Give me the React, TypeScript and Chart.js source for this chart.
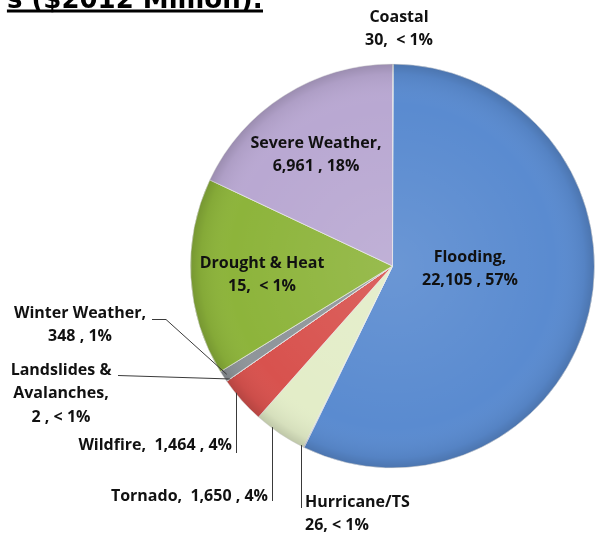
import React, { useEffect, useRef } from "react";
import { Chart, registerables } from "chart.js";

Chart.register(...registerables);

// Slices, clockwise from 12 o'clock
const categories = [
  "Coastal",
  "Flooding",
  "Hurricane/TS",
  "Tornado",
  "Wildfire",
  "Landslides & Avalanches",
  "Winter Weather",
  "Drought & Heat",
  "Severe Weather",
];
// Slice sizes (Drought & Heat slice is drawn ~16% wide)
const values = [30, 22105, 26, 1650, 1464, 2, 348, 6100, 6961];
// Numbers and shares as printed on the data labels
const printedValues = ["30", "22,105", "26", "1,650", "1,464", "2", "348", "15", "6,961"];
const printedShares = ["< 1%", "57%", "< 1%", "4%", "4%", "< 1%", "1%", "< 1%", "18%"];
const colors = [
  "#2f8d9c",
  "#5a8bd0",
  "#7b93b8",
  "#e3edc8",
  "#d8524e",
  "#7d8186",
  "#8f959a",
  "#8db43b",
  "#b9a8d2",
];
const titleText = "s ($2012 Million):";

type Leader =
  | { kind: "vertical"; x: number; y2: number }
  | { kind: "elbow"; pts: number[][]; angleFrac: number };

interface LabelSpec {
  lines: string[];
  x: number;
  y: number;
  align: CanvasTextAlign;
  leader?: Leader;
}

const labelLayout: LabelSpec[] = [
  { lines: ["Coastal", `${printedValues[0]},  ${printedShares[0]}`], x: 399, y: 17, align: "center" },
  { lines: ["Flooding,", `${printedValues[1]} , ${printedShares[1]}`], x: 470, y: 257, align: "center" },
  {
    lines: ["Hurricane/TS", `${printedValues[2]}, ${printedShares[2]}`],
    x: 305,
    y: 502,
    align: "left",
    leader: { kind: "vertical", x: 301, y2: 508 },
  },
  {
    lines: [`Tornado,  ${printedValues[3]} , ${printedShares[3]}`],
    x: 268,
    y: 496,
    align: "right",
    leader: { kind: "vertical", x: 272, y2: 501 },
  },
  {
    lines: [`Wildfire,  ${printedValues[4]} , ${printedShares[4]}`],
    x: 232,
    y: 445,
    align: "right",
    leader: { kind: "vertical", x: 236, y2: 453 },
  },
  {
    lines: ["Landslides &", "Avalanches,", `${printedValues[5]} , ${printedShares[5]}`],
    x: 61,
    y: 370,
    align: "center",
    leader: { kind: "elbow", pts: [[118, 375]], angleFrac: 0.5 },
  },
  {
    lines: ["Winter Weather,", `${printedValues[6]} , ${printedShares[6]}`],
    x: 80,
    y: 313,
    align: "center",
    leader: { kind: "elbow", pts: [[152, 319], [166, 319]], angleFrac: 0.5 },
  },
  { lines: ["Drought & Heat", `${printedValues[7]},  ${printedShares[7]}`], x: 262, y: 263, align: "center" },
  { lines: ["Severe Weather,", `${printedValues[8]} , ${printedShares[8]}`], x: 316, y: 143, align: "center" },
];

const LABEL_FONT = 'bold 16px "Open Sans", "Noto Sans", sans-serif';
const LINE_H = 23.5;

const decorPlugin = {
  id: "decor",
  afterDatasetsDraw(chart: any) {
    const ctx: CanvasRenderingContext2D = chart.ctx;
    const meta = chart.getDatasetMeta(0);
    const a0 = meta.data[0];
    const cx = a0.x;
    const cy = a0.y;
    const r = a0.outerRadius;
    // 3D-ish shading overlay
    ctx.save();
    const g = ctx.createRadialGradient(cx, cy, 0, cx, cy, r);
    g.addColorStop(0, "rgba(255,255,255,0.10)");
    g.addColorStop(0.8, "rgba(255,255,255,0.0)");
    g.addColorStop(0.95, "rgba(0,0,0,0.06)");
    g.addColorStop(1, "rgba(0,0,0,0.16)");
    ctx.fillStyle = g;
    ctx.beginPath();
    ctx.arc(cx, cy, r, 0, Math.PI * 2);
    ctx.fill();
    ctx.restore();
  },
  afterDraw(chart: any) {
    const ctx: CanvasRenderingContext2D = chart.ctx;
    const meta = chart.getDatasetMeta(0);
    const a0 = meta.data[0];
    const cx = a0.x;
    const cy = a0.y;
    const r = a0.outerRadius;

    // Title (cut off at top-left as in the source)
    ctx.save();
    ctx.font = 'bold 26px "DejaVu Sans", Verdana, sans-serif';
    ctx.fillStyle = "#000";
    ctx.textAlign = "right";
    ctx.textBaseline = "alphabetic";
    const tw = ctx.measureText(titleText).width;
    ctx.fillText(titleText, 263, 8);
    ctx.fillRect(263 - tw, 9.5, tw, 3);
    ctx.restore();

    // Leader lines
    ctx.save();
    ctx.strokeStyle = "#3a3a3a";
    ctx.lineWidth = 1;
    labelLayout.forEach((spec, i) => {
      const L = spec.leader;
      if (!L) return;
      ctx.beginPath();
      if (L.kind === "vertical") {
        const dx = L.x - cx;
        const yTop = cy + Math.sqrt(Math.max(r * r - dx * dx, 0)) - 1;
        ctx.moveTo(L.x + 0.5, yTop);
        ctx.lineTo(L.x + 0.5, L.y2);
      } else {
        const arc = meta.data[i];
        const ang = arc.startAngle + (arc.endAngle - arc.startAngle) * L.angleFrac;
        const ex = cx + Math.cos(ang) * (r - 4);
        const ey = cy + Math.sin(ang) * (r - 4);
        ctx.moveTo(L.pts[0][0], L.pts[0][1] + 0.5);
        for (let k = 1; k < L.pts.length; k++) ctx.lineTo(L.pts[k][0], L.pts[k][1] + 0.5);
        ctx.lineTo(ex, ey);
      }
      ctx.stroke();
    });
    ctx.restore();

    // Data labels
    ctx.save();
    ctx.font = LABEL_FONT;
    ctx.fillStyle = "#111";
    ctx.textBaseline = "middle";
    labelLayout.forEach((spec) => {
      ctx.textAlign = spec.align;
      spec.lines.forEach((ln, k) => {
        ctx.fillText(ln, spec.x, spec.y + k * LINE_H);
      });
    });
    ctx.restore();
  },
};

export default function App() {
  const ref = useRef<HTMLCanvasElement | null>(null);
  useEffect(() => {
    if (!ref.current) return;
    const chart = new Chart(ref.current, {
      type: "pie",
      data: {
        labels: categories,
        datasets: [
          {
            data: values,
            backgroundColor: colors,
            borderColor: "rgba(235,235,235,0.7)",
            borderWidth: 1,
          },
        ],
      },
      options: {
        responsive: false,
        animation: false,
        layout: { padding: { left: 190, right: 0, top: 63, bottom: 67 } },
        plugins: {
          legend: { display: false },
          title: { display: false },
          tooltip: { enabled: false },
        },
      },
      plugins: [decorPlugin],
    });
    return () => chart.destroy();
  }, []);
  return (
    <div style={{ position: "absolute", left: 0, top: 0, width: 595, height: 536, background: "#fff" }}>
      <canvas ref={ref} width={595} height={536} style={{ display: "block" }} />
    </div>
  );
}
